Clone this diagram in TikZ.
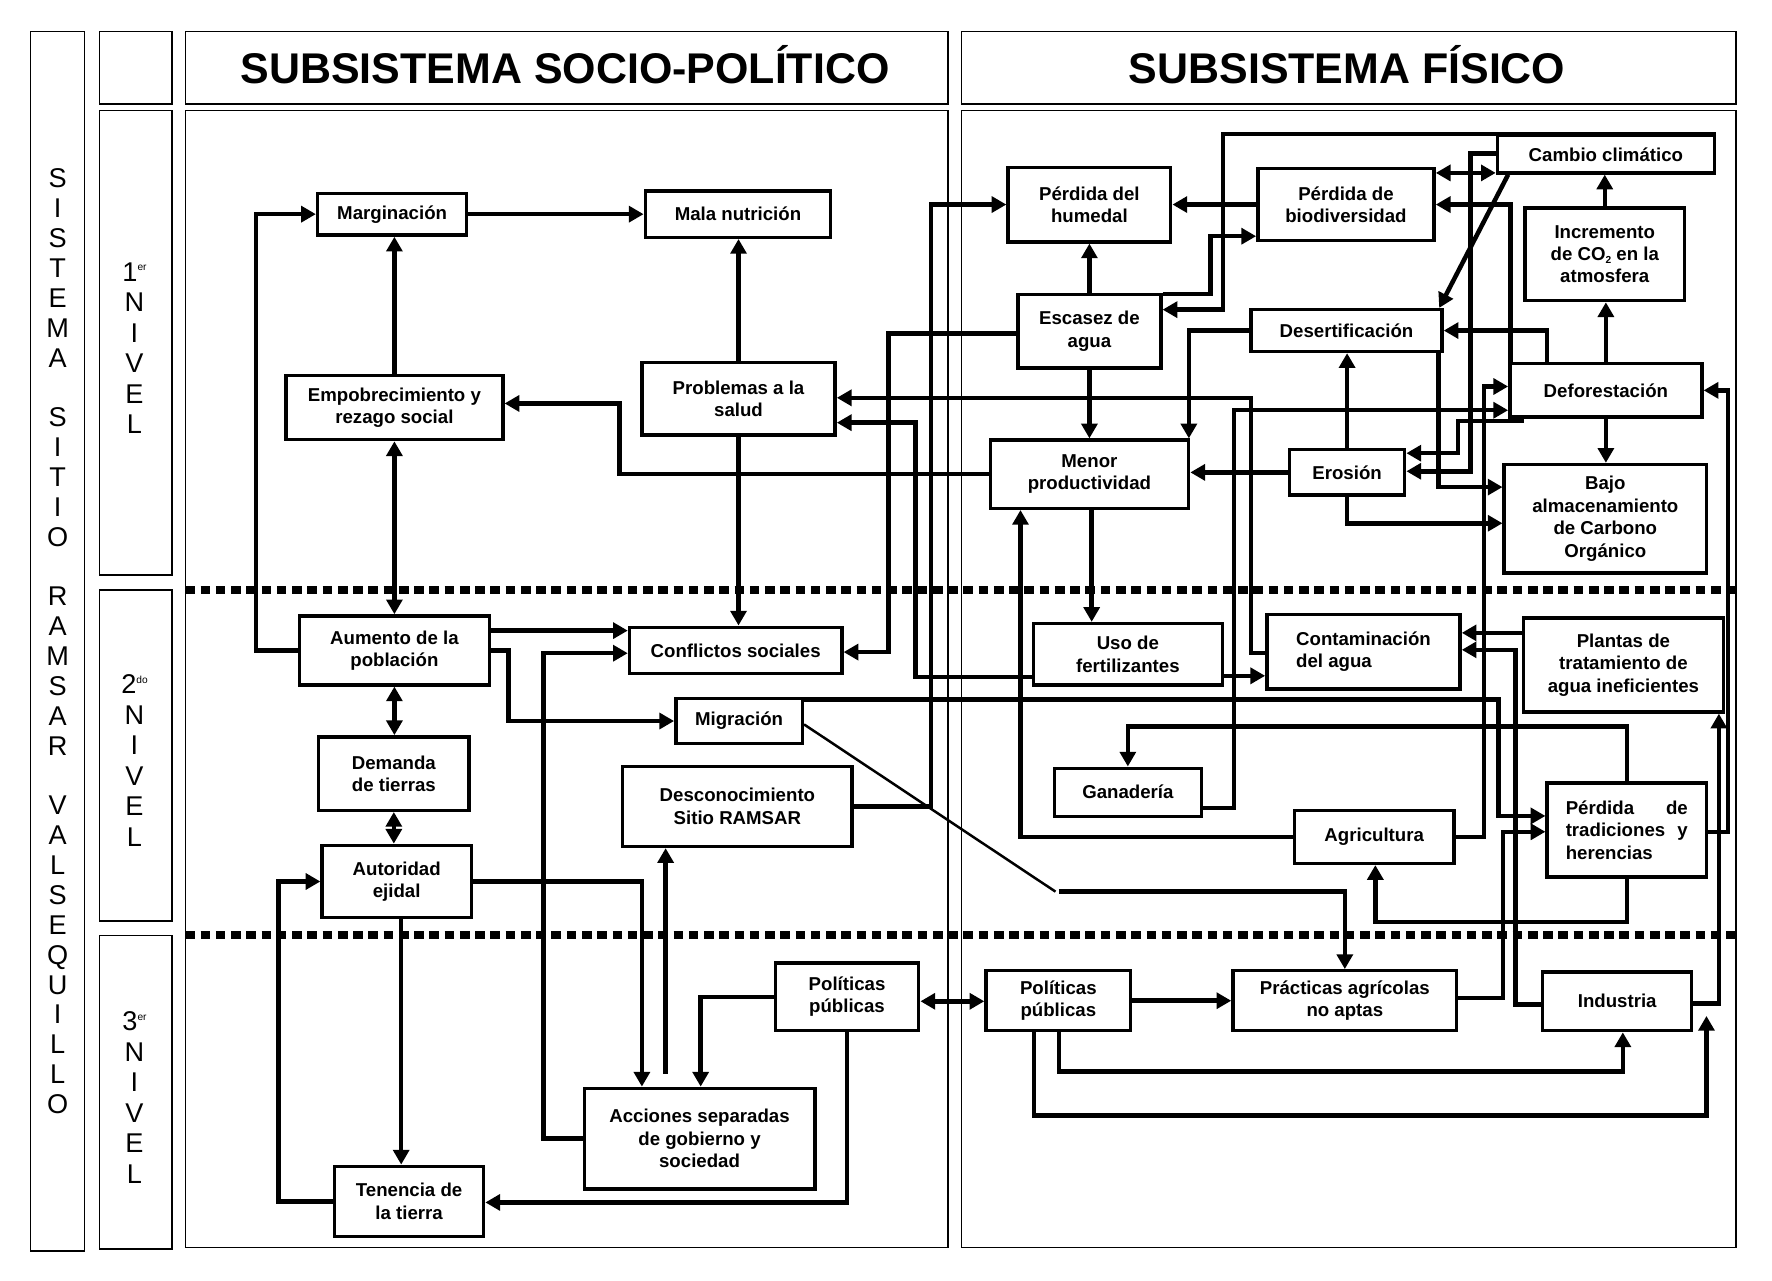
\documentclass[tikz,border=0pt]{standalone}
\usepackage{fontspec}
\setmainfont{Liberation Sans}
\usetikzlibrary{arrows.meta,calc}
\newcommand\boxfont{\fontsize{16.5}{19.8}\selectfont\bfseries}
\newcommand\subtwo{\raisebox{-2.5pt}{\fontsize{9}{9}\selectfont 2}}
\newcommand\supx[1]{\raisebox{9pt}{\fontsize{9}{9}\selectfont #1}}
\begin{document}
\begin{tikzpicture}[x=1pt,y=-1pt,
  box/.style={draw, line width=3pt, inner sep=0pt, align=center, font=\boxfont},
  con/.style={line width=4pt, -{Triangle[length=13pt,width=14pt]}},
  dcon/.style={line width=4pt, {Triangle[length=13pt,width=14pt]}-{Triangle[length=13pt,width=14pt]}},
  thinlink/.style={line width=2.2pt},
  frame/.style={line width=1.3pt},
  lvline/.style={line width=7pt, dash pattern=on 8.5pt off 5pt},
  hdr/.style={font=\fontsize{38}{40}\selectfont\bfseries, inner sep=0pt, anchor=base},
  stack/.style={font=\fontsize{24}{26.42}\selectfont, align=center, inner sep=0pt},
  lstack/.style={font=\fontsize{24}{27}\selectfont, align=center, inner sep=0pt}]
\useasboundingbox (0,0) rectangle (1568,1133);
\fill[white] (0,0) rectangle (1568,1133);

% frames
\draw[frame] (27,28) rectangle (75,1107);
\draw[frame] (88,28) rectangle (152,92);
\draw[frame] (88,98) rectangle (152,509);
\draw[frame] (88,522) rectangle (152,815);
\draw[frame] (88,828) rectangle (152,1105);
\draw[frame] (164,28) rectangle (839,92);
\draw[frame] (164,98) rectangle (839,1104);
\draw[frame] (851,28) rectangle (1536,92);
\draw[frame] (851,98) rectangle (1536,1104);

% headers and side labels
\node[hdr] (hsoc) at (500,74) {SUBSISTEMA SOCIO-POLÍTICO};
\node[hdr] (hfis) at (1192,74) {SUBSISTEMA FÍSICO};
\node[stack] (sist) at (51,567.5) {S\\I\\S\\T\\E\\M\\A\\[26.42pt]S\\I\\T\\I\\O\\[26.42pt]R\\A\\M\\S\\A\\R\\[26.42pt]V\\A\\L\\S\\E\\Q\\U\\I\\L\\L\\O};
\node[lstack] (lv1) at (119,308) {1\supx{er}\\N\\I\\V\\E\\L};
\node[lstack] (lv2) at (119,673) {2\supx{do}\\N\\I\\V\\E\\L};
\node[lstack] (lv3) at (119,971) {3\supx{er}\\N\\I\\V\\E\\L};

% level separators
\draw[lvline] (164,522) -- (1538,522);
\draw[lvline] (164,827) -- (1538,827);

% socio-politico nodes
\node[box, minimum width=132pt, minimum height=37pt] (marg) at (347,189.5) {Marginación};
\node[box, minimum width=164pt, minimum height=41pt] (mala) at (653,189.5) {Mala nutrición};
\node[box, minimum width=192pt, minimum height=57pt] (empo) at (349,360.5) {Empobrecimiento y\\rezago social};
\node[box, minimum width=171pt, minimum height=64pt] (prob) at (653.5,353) {Problemas a la\\salud};
\node[box, minimum width=168pt, minimum height=61pt] (aum) at (349,575.5) {Aumento de la\\población};
\node[box, minimum width=188pt, minimum height=41pt] (conf) at (651,575.5) {Conflictos sociales};
\node[box, minimum width=112pt, minimum height=40pt] (migr) at (654,638) {Migración};
\node[box, minimum width=133pt, minimum height=65pt] (dem) at (348.5,684.5) {Demanda\\de tierras};
\node[box, minimum width=203pt, minimum height=71pt] (desc) at (652.5,713.5) {Desconocimiento\\Sitio RAMSAR};
\node[box, minimum width=132pt, minimum height=64pt] (aut) at (351,780) {Autoridad\\ejidal};
\node[box, minimum width=127pt, minimum height=60pt] (polL) at (749.5,882) {Políticas\\públicas};
\node[box, minimum width=204pt, minimum height=89pt] (acc) at (619,1007.5) {Acciones separadas\\de gobierno y\\sociedad};
\node[box, minimum width=132pt, minimum height=62pt] (ten) at (362,1063) {Tenencia de\\la tierra};

% fisico nodes
\node[box, minimum width=192pt, minimum height=33pt] (camb) at (1421,136.5) {Cambio climático};
\node[box, minimum width=144pt, minimum height=66pt] (hum) at (964,181) {Pérdida del\\humedal};
\node[box, minimum width=156pt, minimum height=64pt] (bio) at (1191,181) {Pérdida de\\biodiversidad};
\node[box, minimum width=141pt, minimum height=82pt] (incr) at (1420,225) {Incremento\\de CO\subtwo{} en la\\atmosfera};
\node[box, minimum width=126.5pt, minimum height=65pt] (esc) at (964,293) {Escasez de\\agua};
\node[box, minimum width=169pt, minimum height=37pt] (des) at (1191.5,292.5) {Desertificación};
\node[box, minimum width=170pt, minimum height=47pt] (def) at (1421,345.4) {Deforestación};
\node[box, minimum width=175.6pt, minimum height=60.4pt] (men) at (964,419.6) {Menor\\productividad};
\node[box, minimum width=102pt, minimum height=40pt] (ero) at (1192,418) {Erosión};
\node[box, minimum width=179pt, minimum height=96pt] (bajo) at (1420.5,459) {Bajo\\almacenamiento\\de Carbono\\Orgánico};
\node[box, minimum width=167pt, minimum height=54.5pt] (uso) at (998,579) {Uso de\\fertilizantes};
\node[box, minimum width=171pt, minimum height=66pt, align=left] (con) at (1206.5,576.5) {Contaminación\\del agua};
\node[box, minimum width=177pt, minimum height=83pt] (plan) at (1436.5,588.5) {Plantas de\\tratamiento de\\agua ineficientes};
\node[box, minimum width=130pt, minimum height=42.5pt] (gan) at (998,701) {Ganadería};
\node[box, minimum width=141.5pt, minimum height=47pt] (agr) at (1216,740.5) {Agricultura};
\node[box, minimum width=141pt, minimum height=83pt, align=left] (perd) at (1439.5,734.5) {\makebox[108pt][s]{Pérdida de}\\\makebox[108pt][s]{tradiciones y}\\herencias};
\node[box, minimum width=128pt, minimum height=53pt] (polR) at (936.5,885.5) {Políticas\\públicas};
\node[box, minimum width=198pt, minimum height=53pt] (pract) at (1190,885.5) {Prácticas agrícolas\\no aptas};
\node[box, minimum width=132pt, minimum height=52pt] (indus) at (1431,886) {Industria};

% free ends and bends
\coordinate (accgap) at (589,950);
\coordinate (indfree) at (1510,899);
\coordinate (migbend) at (934,789);

% socio-politico connectors
\draw[con] (marg.east) -- (mala.west);
\draw[con] (empo.north) -- (empo.north |- marg.south);
\draw[con] (prob.north) -- (prob.north |- mala.south);
\draw[dcon] (empo.south) -- (empo.south |- aum.north);
\draw[con] (aum.west) -- ++(-37,0) |- (marg.west);
\draw[con] (prob.south) -- (prob.south |- conf.north);
\draw[con] (aum.east |- 0,558) -- (conf.west |- 0,558);
\draw[con] (aum.east) -- (450,575.5) |- (migr.west);
\draw[dcon] (aum.south) -- (aum.south |- dem.north);
\draw[dcon] (dem.south) -- (dem.south |- aut.north);
\draw[con] (aut.south -| 355,0) -- (355,0 |- ten.north);
\draw[con] (ten.west) -- ++(-48,0) |- (aut.west);
\draw[con] (aut.east) -| (568,0 |- acc.north);
\draw[con] (accgap) -- (accgap |- desc.south);
\draw[con] (acc.west) -- (481,0 |- acc.west) |- (conf.west |- 0,578);
\draw[con] (polL.west) -| (620,0 |- acc.north);
\draw[con] (polL.south) |- (ten.east |- 0,1064);
\draw[dcon] (polL.east |- 0,886) -- (polR.west |- 0,886);

% cross connectors
\draw[con] (desc.east) -| (824,181) -- (hum.west);
\draw[con] (esc.west |- 0,295) -- (786,295) |- (conf.east |- 0,577);
\draw[con] (men.west) -- (548,0 |- men.west) |- (empo.east |- 0,357);
\draw[con] (con.west |- 0,578) -| (1107,352) -- (prob.east |- 0,352);
\draw[con] (uso.west |- 0,599) -| (810,374) -- (prob.east |- 0,374);
\draw[con] (migr.east |- 0,619) -| (1326,722) -- (perd.west |- 0,722);
\draw[thinlink] (migr.east |- 0,641) -- (migbend);
\draw[con] ([xshift=3pt]migbend) -| (pract.north);

% fisico connectors
\draw[con] (polR.east) -- (pract.west);
\draw[con] (937,0 |- polR.south) |- (1436,948) -- (1436,0 |- indus.south);
\draw[con] (915,0 |- polR.south) |- (1510,987) -- (indfree);
\draw[con] (indus.east |- 0,888) -| (1521,0 |- plan.south);
\draw[con] (indus.west |- 0,889) -| (1341,575) -- (con.east |- 0,575);
\draw[con] (plan.west |- 0,560) -- (con.east |- 0,560);
\draw[con] (pract.east |- 0,883) -| (1330,736) -- (perd.west |- 0,736);
\draw[con] (agr.west) -| (903,0 |- men.south);
\draw[con] (agr.east) -| (1313,342) -- (def.west |- 0,342);
\draw[con] (gan.east |- 0,715) -| (1092,363) -- (def.west |- 0,363);
\draw[con] (perd.east |- 0,736) -| (1529,0 |- def.east) -- (def.east);
\draw[con] (perd.north) |- (998,643) -- (998,0 |- gan.north);
\draw[con] (perd.south) |- (1217,816) -- (1217,0 |- agr.south);
\draw[con] (966,0 |- men.south) -- (966,0 |- uso.north);
\draw[con] (uso.east |- 0,598) -- (con.west |- 0,598);
\draw[con] (esc.north) -- (esc.north |- hum.south);
\draw[con] (esc.south) -- (esc.south |- men.north);
\draw[con] (bio.west) -- (hum.east);
\draw[con] (esc.east |- 0,260) -| (1071,209) -- (bio.west |- 0,209);
\draw[con] (camb.north east) -- (1082,0 |- camb.north) |- (esc.east |- 0,274);
\draw[dcon] (bio.east |- 0,153) -- (camb.west |- 0,153);
\draw[con] (camb.west |- 0,136) -| (1301,417) -- (ero.east |- 0,417);
\draw[con] ($(camb.south west)+(11,0)$) -- ($(des.north east)+(-4,0)$);
\draw[con] ($(def.north west)+(2,0)$) |- (bio.east);
\draw[con] (def.north -| 1369,0) |- (des.east);
\draw[con] (def.north) -- (def.north |- incr.south);
\draw[con] (incr.north) -- (incr.north |- camb.south);
\draw[con] (def.south) -- (def.south |- bajo.north);
\draw[con] (des.west) -| (1052,0 |- men.north);
\draw[con] (ero.north) -- (ero.north |- des.south);
\draw[con] (ero.west) -- (men.east |- ero.west);
\draw[con] (ero.south) |- (bajo.west |- 0,463);
\draw[con] (1273,0 |- des.south) |- (bajo.west |- 0,431);
\draw[con] ($(def.south west)+(14,2)$) -| (1290,401) -- (ero.east |- 0,401);
\end{tikzpicture}
\end{document}
